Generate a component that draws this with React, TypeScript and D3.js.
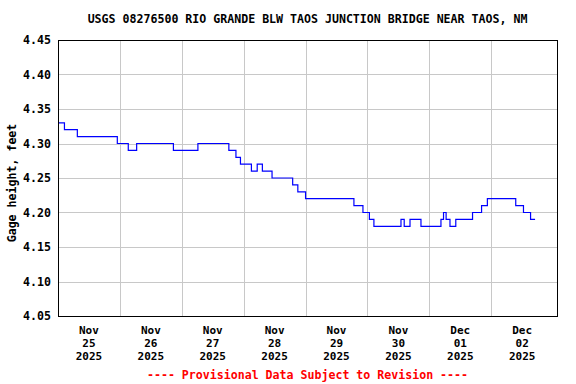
import * as d3 from "d3";

const title = "USGS 08276500 RIO GRANDE BLW TAOS JUNCTION BRIDGE NEAR TAOS, NM";
const yLabel = "Gage height, feet";
const footnote = "---- Provisional Data Subject to Revision ----";

// step changes of gage height (15-min data)
const times = [
  "2025-11-25 00:00", "2025-11-25 02:30", "2025-11-25 07:30", "2025-11-25 23:00",
  "2025-11-26 03:15", "2025-11-26 06:30", "2025-11-26 20:45", "2025-11-27 06:15",
  "2025-11-27 18:15", "2025-11-27 21:00", "2025-11-27 22:45", "2025-11-28 03:00",
  "2025-11-28 05:15", "2025-11-28 07:15", "2025-11-28 11:00", "2025-11-28 19:00",
  "2025-11-28 21:00", "2025-11-29 00:00", "2025-11-29 18:45", "2025-11-29 22:15",
  "2025-11-30 00:45", "2025-11-30 02:30", "2025-11-30 13:00", "2025-11-30 14:15",
  "2025-11-30 16:30", "2025-11-30 20:45", "2025-12-01 04:30", "2025-12-01 05:30",
  "2025-12-01 06:30", "2025-12-01 08:00", "2025-12-01 10:15", "2025-12-01 16:45",
  "2025-12-01 20:15", "2025-12-01 22:30", "2025-12-02 09:30", "2025-12-02 12:30",
  "2025-12-02 15:15", "2025-12-02 17:00",
];
const heights = [
  4.33, 4.32, 4.31, 4.30,
  4.29, 4.30, 4.29, 4.30,
  4.29, 4.28, 4.27, 4.26,
  4.27, 4.26, 4.25, 4.24,
  4.23, 4.22, 4.21, 4.20,
  4.19, 4.18, 4.19, 4.18,
  4.19, 4.18, 4.19, 4.20,
  4.19, 4.18, 4.19, 4.20,
  4.21, 4.22, 4.21, 4.20,
  4.19, 4.19,
];

const yTicks = [4.05, 4.1, 4.15, 4.2, 4.25, 4.3, 4.35, 4.4, 4.45];
const dayTicks = [
  "2025-11-25", "2025-11-26", "2025-11-27", "2025-11-28",
  "2025-11-29", "2025-11-30", "2025-12-01", "2025-12-02",
];
const xStart = "2025-11-25 00:00";
const xEnd = "2025-12-03 01:30";

const parseTime = d3.timeParse("%Y-%m-%d %H:%M");
const parseDay = d3.timeParse("%Y-%m-%d");

const FONT = "'DejaVu Sans Mono', 'Liberation Mono', monospace";

export default function App() {
  const width = 576;
  const height = 384;
  const left = 58;
  const right = 557;
  const top = 40;
  const bottom = 316;

  const x = d3.scaleTime()
    .domain([parseTime(xStart)!, parseTime(xEnd)!])
    .range([left, right]);
  const y = d3.scaleLinear().domain([4.05, 4.45]).range([bottom, top]);

  const pts = times.map((t, i) => ({ t: parseTime(t)!, v: heights[i] }));
  const line = d3.line<{ t: Date; v: number }>()
    .x(d => x(d.t))
    .y(d => y(d.v))
    .curve(d3.curveStepAfter);

  const days = dayTicks.map(d => parseDay(d)!);
  const midnights = d3.timeDay.range(d3.timeDay.offset(days[0], 1), d3.timeDay.offset(days[days.length - 1], 1));
  const fmtMon = d3.timeFormat("%b");
  const fmtDay = d3.timeFormat("%d");
  const fmtYear = d3.timeFormat("%Y");

  return (
    <svg
      width={width}
      height={height}
      style={{ position: "absolute", left: 0, top: 0, background: "#fff" }}
      fontFamily={FONT}
      fontWeight="bold"
      fontSize={11.6}
    >
      <rect width={width} height={height} fill="#fff" />
      <text x={(left + right) / 2} y={23} textAnchor="middle" fill="#000">{title}</text>

      {yTicks.slice(1, -1).map(v => (
        <line key={`hy${v}`} x1={left} x2={right} y1={Math.round(y(v)) + 0.5} y2={Math.round(y(v)) + 0.5}
          stroke="#c8c8c8" strokeWidth={1} />
      ))}
      {midnights.map(d => (
        <line key={`vx${+d}`} y1={top} y2={bottom} x1={Math.round(x(d)) + 0.5} x2={Math.round(x(d)) + 0.5}
          stroke="#c8c8c8" strokeWidth={1} />
      ))}

      <path d={line(pts) ?? ""} fill="none" stroke="#0000ff" strokeWidth={1.2} />

      <rect x={left + 0.5} y={top + 0.5} width={right - left} height={bottom - top}
        fill="none" stroke="#000" strokeWidth={1} />

      {yTicks.map(v => (
        <text key={`yt${v}`} x={51} y={y(v) + 4} textAnchor="end" fill="#000">{v.toFixed(2)}</text>
      ))}
      <text transform={`translate(16,${(top + bottom) / 2 + 5}) rotate(-90)`} textAnchor="middle" fill="#000">
        {yLabel}
      </text>

      {days.map(d => {
        const cx = x(d3.timeHour.offset(d, 12));
        return (
          <g key={`xt${+d}`} textAnchor="middle" fill="#000" fontSize={11}>
            <text x={cx} y={334}>{fmtMon(d)}</text>
            <text x={cx} y={347}>{fmtDay(d)}</text>
            <text x={cx} y={360}>{fmtYear(d)}</text>
          </g>
        );
      })}

      <text x={(left + right) / 2} y={379} textAnchor="middle" fill="#ff0000">{footnote}</text>
    </svg>
  );
}
